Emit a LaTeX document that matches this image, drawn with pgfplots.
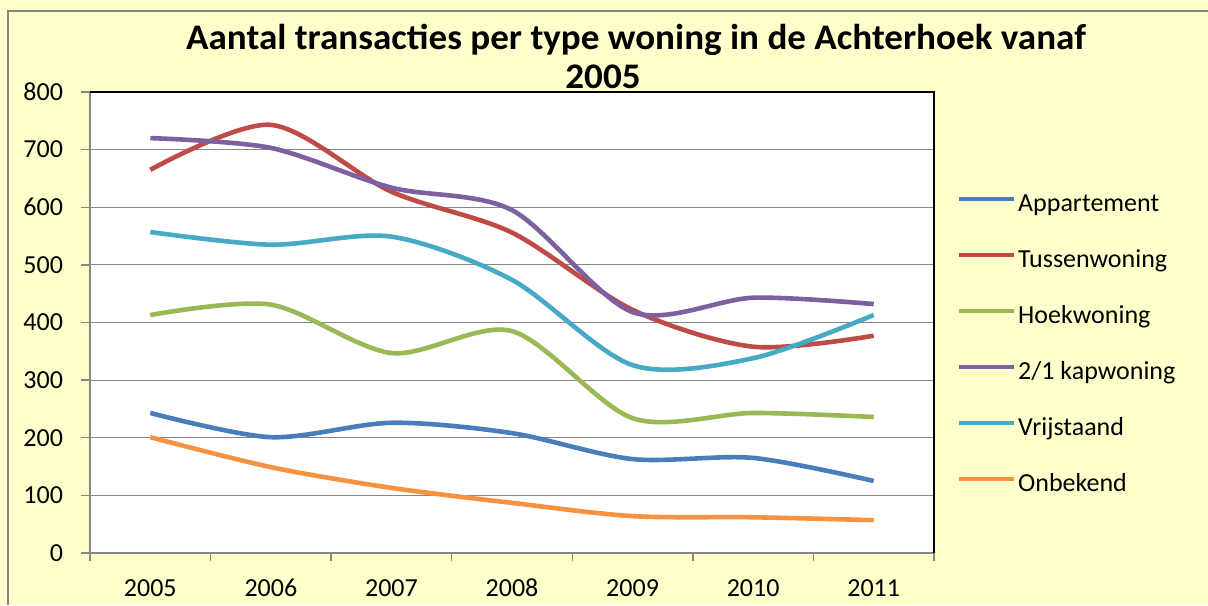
\documentclass[border=0pt]{standalone}
\usepackage{fontspec}
\setmainfont{Carlito}
\newfontfamily\titlefont{Carlito}[FakeStretch=1.03]
\usepackage{pgfplots}
\pgfplotsset{compat=1.18}

\definecolor{chartbg}{HTML}{FFFFCC}
\definecolor{axisgray}{HTML}{868686}
\definecolor{cApp}{HTML}{4A7EBB}
\definecolor{cTus}{HTML}{BE4B48}
\definecolor{cHoek}{HTML}{98B954}
\definecolor{cKap}{HTML}{7D60A0}
\definecolor{cVrij}{HTML}{46AAC5}
\definecolor{cOnb}{HTML}{F69240}

\begin{document}
\begin{tikzpicture}
% chart area
\fill[chartbg] (0,0) rectangle (604pt,302.5pt);
\useasboundingbox (0,0) rectangle (604pt,302.5pt);
\draw[axisgray, line width=1pt] (4pt,0) -- (4pt,297pt) -- (604pt,297pt);

\node[anchor=base, font=\titlefont\bfseries\fontsize{18}{20}\selectfont] at (318pt,277.5pt)
  {Aantal transacties per type woning in de Achterhoek vanaf};
\node[anchor=base, font=\titlefont\bfseries\fontsize{18}{20}\selectfont] at (301.5pt,258pt) {2005};

\begin{axis}[
    at={(45pt,26pt)}, anchor=south west,
    scale only axis, width=422pt, height=230.5pt,
    axis background/.style={fill=white},
    clip=false,
    xmin=-0.5, xmax=6.5, ymin=0, ymax=800,
    axis x line*=bottom, axis y line*=left,
    axis line style={-, draw=axisgray, line width=0.7pt},
    xtick={0,...,6},
    xticklabels={2005,2006,2007,2008,2009,2010,2011},
    major x tick style={draw=none},
    minor xtick={-0.5,0.5,...,6.5},
    minor x tick style={axisgray, line width=0.7pt},
    minor tick length=4pt,
    ytick={0,100,...,800},
    major y tick style={axisgray, line width=0.7pt},
    major tick length=4.5pt,
    tick align=outside,
    ymajorgrids,
    grid style={axisgray, line width=0.6pt},
    /pgf/number format/assume math mode=true,
    ticklabel style={font=\fontsize{13}{15}\selectfont},
    yticklabel style={xshift=-5.5pt},
    xticklabel style={text height=9pt, text depth=2pt, yshift=-4.5pt},
    every axis plot/.append style={line width=2.3pt, smooth, no markers},
    legend style={draw=none, fill=none, at={(1.027,0.78)}, anchor=north west,
        font=\fontsize{13}{15}\selectfont, row sep=16pt, column sep=1pt,
        inner sep=0pt, nodes={inner sep=0pt, text height=9pt, text depth=3pt}},
    legend cell align=left,
    legend image code/.code={\draw[#1, line width=2pt] (0pt,3.5pt) -- (27.5pt,3.5pt);},
]
\addplot[cApp] coordinates {(0,243) (1,201) (2,226) (3,208) (4,163) (5,165) (6,125)};
\addplot[cTus] coordinates {(0,665) (1,743) (2,627) (3,556) (4,422) (5,358) (6,377)};
\addplot[cHoek] coordinates {(0,413) (1,431) (2,347) (3,385) (4,234) (5,243) (6,236)};
\addplot[cKap] coordinates {(0,720) (1,703) (2,634) (3,595) (4,418) (5,443) (6,432)};
\addplot[cVrij] coordinates {(0,557) (1,535) (2,549) (3,474) (4,326) (5,338) (6,413)};
\addplot[cOnb] coordinates {(0,201) (1,149) (2,113) (3,87) (4,64) (5,62) (6,57)};
\legend{Appartement,Tussenwoning,Hoekwoning,2/1 kapwoning,Vrijstaand,Onbekend}
\draw[black, line width=1pt] (rel axis cs:0,1) -- (rel axis cs:1,1) -- (rel axis cs:1,0);
\end{axis}
\end{tikzpicture}
\end{document}
